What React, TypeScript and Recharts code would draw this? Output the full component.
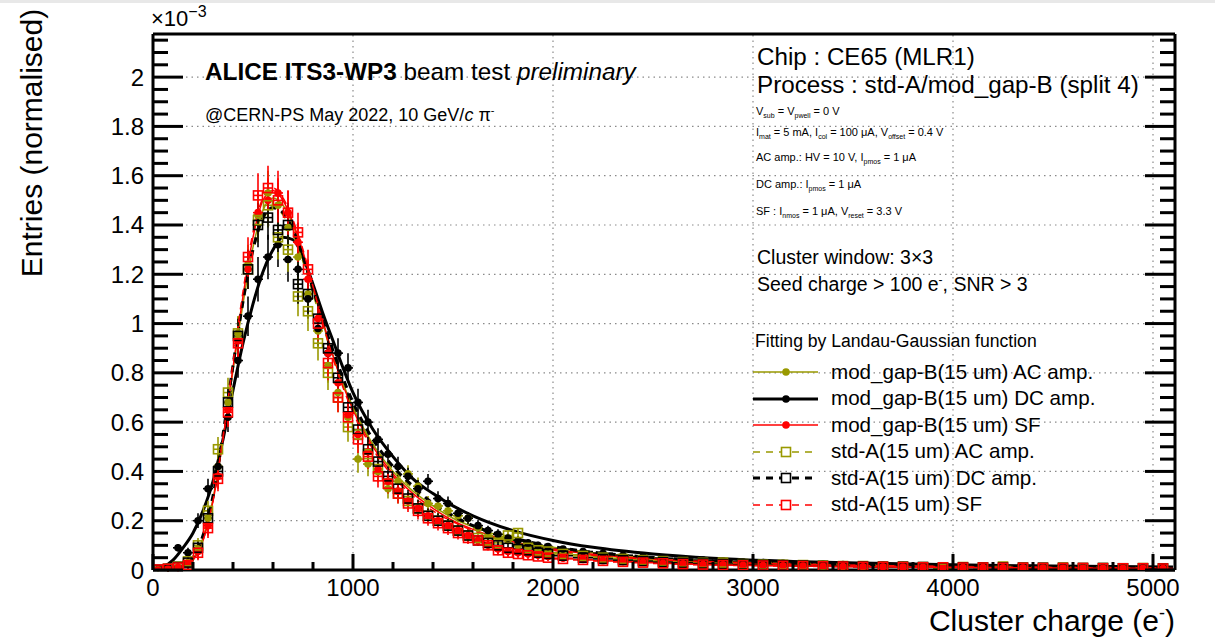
import React from 'react';
import { ComposedChart, Line, Scatter, XAxis, YAxis, ReferenceLine, ErrorBar } from 'recharts';

const FONT = '"Liberation Sans", Arial, Helvetica, sans-serif';
const OLIVE = '#999900';
const RED = '#ff0000';
const BLACK = '#000000';

// bin centres: 50 e wide up to 2000, 100 e wide above
const binX = [
  25, 75, 125, 175, 225, 275, 325, 375, 425, 475, 525, 575, 625, 675, 725, 775, 825, 875, 925, 975,
  1025, 1075, 1125, 1175, 1225, 1275, 1325, 1375, 1425, 1475, 1525, 1575, 1625, 1675, 1725, 1775, 1825, 1875, 1925, 1975,
  2050, 2150, 2250, 2350, 2450, 2550, 2650, 2750, 2850, 2950, 3050, 3150, 3250, 3350, 3450, 3550, 3650, 3750, 3850, 3950,
  4050, 4150, 4250, 4350, 4450, 4550, 4650, 4750, 4850, 4950, 5050,
];

const binErr = [
  0.005, 0.01, 0.015, 0.02, 0.03, 0.04, 0.05, 0.06, 0.07, 0.08, 0.09, 0.09, 0.09, 0.09, 0.08, 0.08, 0.07, 0.07, 0.06, 0.06,
  0.055, 0.05, 0.045, 0.04, 0.04, 0.035, 0.035, 0.03, 0.03, 0.028, 0.026, 0.024, 0.022, 0.02, 0.02, 0.018, 0.017, 0.016, 0.015, 0.015,
  0.012, 0.011, 0.011, 0.01, 0.01, 0.009, 0.009, 0.008, 0.008, 0.008, 0.007, 0.007, 0.007, 0.006, 0.006, 0.006, 0.006, 0.006, 0.005, 0.005,
  0.005, 0.005, 0.005, 0.005, 0.005, 0.005, 0.005, 0.005, 0.005, 0.005, 0.005,
];

// mod_gap-B (filled circles)
const modAc = [
  0.0, 0.004, 0.012, 0.03, 0.085, 0.21, 0.42, 0.68, 0.96, 1.24, 1.44, 1.53, 1.48, 1.39, 1.27, 1.12, 0.97, 0.83, 0.72, 0.62,
  0.45, 0.43, 0.4, 0.33, 0.36, 0.39, 0.34, 0.27, 0.26, 0.24, 0.22, 0.21, 0.17, 0.14, 0.13, 0.12, 0.1, 0.095, 0.085, 0.08,
  0.07, 0.062, 0.055, 0.048, 0.044, 0.04, 0.034, 0.031, 0.029, 0.026, 0.024, 0.022, 0.021, 0.019, 0.018, 0.016, 0.017, 0.015, 0.014, 0.013,
  0.012, 0.013, 0.011, 0.01, 0.011, 0.009, 0.01, 0.008, 0.009, 0.008, 0.007,
];
const modDc = [
  0.002, 0.01, 0.09, 0.07, 0.2, 0.33, 0.42, 0.62, 0.85, 1.03, 1.18, 1.27, 1.32, 1.26, 1.22, 1.1, 0.98, 0.88, 0.88, 0.82,
  0.68, 0.6, 0.53, 0.47, 0.42, 0.38, 0.33, 0.36, 0.29, 0.27, 0.23, 0.21, 0.18, 0.16, 0.145, 0.13, 0.12, 0.11, 0.1, 0.095,
  0.085, 0.075, 0.068, 0.06, 0.054, 0.048, 0.043, 0.04, 0.036, 0.032, 0.03, 0.027, 0.025, 0.023, 0.022, 0.02, 0.019, 0.018, 0.016, 0.015,
  0.014, 0.014, 0.013, 0.012, 0.012, 0.011, 0.01, 0.01, 0.009, 0.009, 0.008,
];
const modSf = [
  0.001, 0.004, 0.01, 0.025, 0.075, 0.18, 0.38, 0.65, 0.93, 1.22, 1.45, 1.5, 1.53, 1.45, 1.33, 1.18, 1.02, 0.88, 0.76, 0.63,
  0.55, 0.48, 0.41, 0.36, 0.32, 0.28, 0.25, 0.22, 0.2, 0.18, 0.16, 0.14, 0.12, 0.1, 0.085, 0.075, 0.07, 0.065, 0.06, 0.055,
  0.048, 0.043, 0.038, 0.034, 0.031, 0.027, 0.025, 0.022, 0.021, 0.019, 0.018, 0.017, 0.016, 0.015, 0.014, 0.013, 0.013, 0.012, 0.011, 0.011,
  0.01, 0.01, 0.009, 0.009, 0.008, 0.008, 0.008, 0.007, 0.007, 0.007, 0.006,
];

// std-A (open squares)
const stdAc = [
  0.0, 0.005, 0.014, 0.035, 0.1, 0.24, 0.49, 0.72, 0.96, 1.22, 1.42, 1.48, 1.35, 1.3, 1.11, 1.05, 0.92, 0.8, 0.7, 0.58,
  0.55, 0.47, 0.41, 0.35, 0.31, 0.28, 0.25, 0.22, 0.2, 0.18, 0.16, 0.14, 0.13, 0.12, 0.11, 0.14, 0.15, 0.09, 0.08, 0.075,
  0.065, 0.057, 0.05, 0.045, 0.04, 0.036, 0.032, 0.029, 0.03, 0.024, 0.022, 0.021, 0.02, 0.018, 0.016, 0.016, 0.014, 0.014, 0.012, 0.006,
  0.012, 0.011, 0.014, 0.01, 0.009, 0.01, 0.008, 0.008, 0.007, 0.008, 0.007,
];
const stdDc = [
  0.001, 0.004, 0.012, 0.03, 0.09, 0.21, 0.4, 0.68, 0.95, 1.22, 1.4, 1.43, 1.38, 1.4, 1.16, 1.12, 1.02, 0.9, 0.78, 0.66,
  0.57, 0.49, 0.44, 0.38, 0.33, 0.29, 0.25, 0.22, 0.2, 0.18, 0.16, 0.14, 0.12, 0.11, 0.1, 0.09, 0.085, 0.08, 0.07, 0.065,
  0.058, 0.05, 0.045, 0.04, 0.036, 0.032, 0.029, 0.026, 0.024, 0.022, 0.02, 0.019, 0.018, 0.016, 0.015, 0.014, 0.013, 0.013, 0.012, 0.011,
  0.011, 0.01, 0.01, 0.009, 0.009, 0.008, 0.008, 0.008, 0.007, 0.007, 0.006,
];
const stdSf = [
  0.002, 0.005, 0.01, 0.02, 0.07, 0.17, 0.37, 0.64, 0.92, 1.27, 1.52, 1.55, 1.5, 1.45, 1.37, 1.22, 1.0, 0.84, 0.7, 0.62,
  0.53, 0.46, 0.38, 0.35, 0.31, 0.27, 0.24, 0.21, 0.19, 0.17, 0.15, 0.13, 0.12, 0.1, 0.08, 0.07, 0.065, 0.06, 0.055, 0.05,
  0.045, 0.041, 0.037, 0.033, 0.03, 0.027, 0.024, 0.022, 0.02, 0.019, 0.018, 0.017, 0.016, 0.015, 0.014, 0.013, 0.013, 0.012, 0.011, 0.011,
  0.01, 0.01, 0.009, 0.009, 0.008, 0.008, 0.008, 0.007, 0.007, 0.007, 0.006,
];

// Landau-Gaussian fits, sampled
const fitX = [
  0, 100, 150, 200, 250, 300, 350, 400, 450, 500, 550, 600, 650, 700, 750, 800, 850, 900, 1000, 1100,
  1200, 1300, 1400, 1500, 1600, 1800, 2000, 2200, 2500, 2800, 3200, 3600, 4000, 4500, 5100,
];
const fitModAc = [
  0, 0.005, 0.015, 0.045, 0.13, 0.29, 0.53, 0.81, 1.08, 1.31, 1.46, 1.51, 1.48, 1.4, 1.28, 1.14, 1.0, 0.87, 0.66, 0.51,
  0.4, 0.32, 0.26, 0.21, 0.175, 0.125, 0.092, 0.07, 0.05, 0.037, 0.027, 0.02, 0.016, 0.012, 0.009,
];
const fitModDc = [
  0, 0.04, 0.09, 0.15, 0.24, 0.36, 0.53, 0.73, 0.92, 1.08, 1.21, 1.3, 1.35, 1.34, 1.27, 1.16, 1.04, 0.93, 0.72, 0.57,
  0.46, 0.37, 0.31, 0.26, 0.22, 0.16, 0.12, 0.092, 0.065, 0.048, 0.035, 0.027, 0.021, 0.016, 0.012,
];
const fitModSf = [
  0, 0.004, 0.012, 0.04, 0.12, 0.28, 0.53, 0.82, 1.11, 1.35, 1.5, 1.54, 1.5, 1.41, 1.29, 1.15, 1.01, 0.87, 0.65, 0.5,
  0.39, 0.31, 0.25, 0.2, 0.165, 0.115, 0.085, 0.064, 0.045, 0.033, 0.024, 0.018, 0.014, 0.011, 0.008,
];
const fitStdAc = [
  0, 0.005, 0.015, 0.05, 0.14, 0.3, 0.55, 0.83, 1.08, 1.29, 1.42, 1.47, 1.44, 1.36, 1.25, 1.12, 0.99, 0.86, 0.66, 0.51,
  0.41, 0.33, 0.27, 0.22, 0.18, 0.13, 0.095, 0.072, 0.051, 0.038, 0.028, 0.021, 0.016, 0.012, 0.009,
];
const fitStdDc = [
  0, 0.005, 0.015, 0.05, 0.14, 0.3, 0.55, 0.83, 1.09, 1.3, 1.43, 1.47, 1.45, 1.38, 1.27, 1.14, 1.01, 0.89, 0.68, 0.53,
  0.42, 0.34, 0.27, 0.22, 0.18, 0.13, 0.095, 0.072, 0.051, 0.038, 0.028, 0.021, 0.016, 0.012, 0.009,
];
const fitStdSf = [
  0, 0.004, 0.012, 0.04, 0.12, 0.28, 0.54, 0.84, 1.13, 1.37, 1.51, 1.55, 1.51, 1.42, 1.3, 1.15, 1.0, 0.86, 0.64, 0.49,
  0.38, 0.3, 0.24, 0.195, 0.16, 0.11, 0.08, 0.06, 0.043, 0.032, 0.023, 0.017, 0.013, 0.01, 0.008,
];

const xMajor = [1000, 2000, 3000, 4000, 5000];
const yMajor = [0.2, 0.4, 0.6, 0.8, 1, 1.2, 1.4, 1.6, 1.8, 2];
const xTicks = Array.from({ length: 26 }, (_, i) => i * 200);
const yTicks = Array.from({ length: 44 }, (_, i) => (i * 5) / 100);
const X_MAX = 5110;
const Y_MAX = 2.175;

type Series = {
  name: string;
  color: string;
  square: boolean;
  dash?: string;
  width: number;
  points: number[];
  fit: number[];
};

const series: Series[] = [
  { name: 'mod_gap-B(15 um) AC amp.', color: OLIVE, square: false, width: 1.5, points: modAc, fit: fitModAc },
  { name: 'mod_gap-B(15 um) DC amp.', color: BLACK, square: false, width: 3, points: modDc, fit: fitModDc },
  { name: 'mod_gap-B(15 um) SF', color: RED, square: false, width: 1.5, points: modSf, fit: fitModSf },
  { name: 'std-A(15 um) AC amp.', color: OLIVE, square: true, dash: '7 6', width: 1.5, points: stdAc, fit: fitStdAc },
  { name: 'std-A(15 um) DC amp.', color: BLACK, square: true, dash: '7 6', width: 3, points: stdDc, fit: fitStdDc },
  { name: 'std-A(15 um) SF', color: RED, square: true, dash: '7 6', width: 1.5, points: stdSf, fit: fitStdSf },
];

const toPoints = (vals: number[]) =>
  vals.map((y, i) => ({ x: binX[i], y, ey: binErr[i], ex: binX[i] < 2000 ? 25 : 50 }));
const toCurve = (vals: number[]) => vals.map((y, i) => ({ x: fitX[i], y }));

const isMajorY = (v: number) => Math.round(v * 20) % 4 === 0;

const BottomTick = (props: any) => {
  const { x, y, payload } = props;
  const major = payload.value % 1000 === 0;
  return (
    <g>
      <line x1={x} x2={x} y1={y} y2={y - (major ? 16 : 8)} stroke="#000" strokeWidth={3} />
      {major && (
        <text x={x} y={y + 26} textAnchor="middle" fontSize={24} fontFamily={FONT} fill="#000">
          {payload.value}
        </text>
      )}
    </g>
  );
};

const TopTick = (props: any) => {
  const { x, y, payload } = props;
  const major = payload.value % 1000 === 0;
  return <line x1={x} x2={x} y1={y} y2={y + (major ? 16 : 8)} stroke="#000" strokeWidth={3} />;
};

const LeftTick = (props: any) => {
  const { x, y, payload } = props;
  const major = isMajorY(payload.value);
  return (
    <g>
      <line x1={x} x2={x + (major ? 30 : 15)} y1={y} y2={y} stroke="#000" strokeWidth={3} />
      {major && (
        <text x={x - 9} y={y + 8.5} textAnchor="end" fontSize={24} fontFamily={FONT} fill="#000">
          {String(Math.round(payload.value * 10) / 10)}
        </text>
      )}
    </g>
  );
};

const RightTick = (props: any) => {
  const { x, y, payload } = props;
  const major = isMajorY(payload.value);
  return <line x1={x} x2={x - (major ? 30 : 15)} y1={y} y2={y} stroke="#000" strokeWidth={3} />;
};

const dotShape = (color: string) => (props: any) =>
  <circle cx={props.cx} cy={props.cy} r={3.8} fill={color} />;
const squareShape = (color: string) => (props: any) =>
  <rect x={props.cx - 4.5} y={props.cy - 4.5} width={9} height={9} fill="none" stroke={color} strokeWidth={1.6} />;

const Sub = ({ children }: { children: React.ReactNode }) => (
  <span style={{ fontSize: 7, position: 'relative', top: 3 }}>{children}</span>
);

const txt = (left: number, top: number, size: number): React.CSSProperties => ({
  position: 'absolute',
  left,
  top,
  fontSize: size,
  lineHeight: 1,
  whiteSpace: 'nowrap',
  color: '#000',
});

export default function App() {
  return (
    <div style={{ position: 'relative', width: 1215, height: 644, background: '#fff', fontFamily: FONT, overflow: 'hidden' }}>
      <style>{'body{margin:0}'}</style>
      <div style={{ position: 'absolute', left: 0, top: 0, width: 1215, height: 3, background: '#e8e8e8' }} />
      <ComposedChart width={1215} height={644} margin={{ top: 0, right: 0, bottom: 0, left: 0 }}>
        <XAxis
          xAxisId="b"
          type="number"
          dataKey="x"
          domain={[0, X_MAX]}
          ticks={xTicks}
          interval={0}
          allowDataOverflow
          height={74}
          axisLine={{ stroke: '#000', strokeWidth: 3 }}
          tickLine={false}
          tickSize={0}
          tickMargin={0}
          tick={BottomTick}
        />
        <XAxis
          xAxisId="t"
          orientation="top"
          type="number"
          domain={[0, X_MAX]}
          ticks={xTicks}
          interval={0}
          allowDataOverflow
          height={34}
          axisLine={{ stroke: '#000', strokeWidth: 3 }}
          tickLine={false}
          tickSize={0}
          tickMargin={0}
          tick={TopTick}
        />
        <YAxis
          yAxisId="l"
          type="number"
          domain={[0, Y_MAX]}
          ticks={yTicks}
          interval={0}
          allowDataOverflow
          width={153}
          axisLine={{ stroke: '#000', strokeWidth: 3 }}
          tickLine={false}
          tickSize={0}
          tickMargin={0}
          tick={LeftTick}
        />
        <YAxis
          yAxisId="r"
          orientation="right"
          type="number"
          domain={[0, Y_MAX]}
          ticks={yTicks}
          interval={0}
          allowDataOverflow
          width={40}
          axisLine={{ stroke: '#000', strokeWidth: 3 }}
          tickLine={false}
          tickSize={0}
          tickMargin={0}
          tick={RightTick}
        />
        {xMajor.map((v) => (
          <ReferenceLine key={'gx' + v} xAxisId="b" yAxisId="l" x={v} stroke="#8a8a8a" strokeWidth={1.2} strokeDasharray="1.5 4" />
        ))}
        {yMajor.map((v) => (
          <ReferenceLine key={'gy' + v} xAxisId="b" yAxisId="l" y={v} stroke="#8a8a8a" strokeWidth={1.2} strokeDasharray="1.5 4" />
        ))}
        {series.flatMap((s, k) => [
          <Scatter
            key={'p' + k}
            xAxisId="b"
            yAxisId="l"
            data={toPoints(s.points)}
            dataKey="y"
            isAnimationActive={false}
            shape={s.square ? squareShape(s.color) : dotShape(s.color)}
          >
            <ErrorBar dataKey="ey" direction="y" width={0} stroke={s.color} strokeWidth={1.6} isAnimationActive={false} />
            <ErrorBar dataKey="ex" direction="x" width={0} stroke={s.color} strokeWidth={1.6} isAnimationActive={false} />
          </Scatter>,
          <Line
            key={'f' + k}
            xAxisId="b"
            yAxisId="l"
            data={toCurve(s.fit)}
            dataKey="y"
            type="monotone"
            stroke={s.color}
            strokeWidth={s.width}
            strokeDasharray={s.dash}
            dot={false}
            activeDot={false}
            isAnimationActive={false}
          />,
        ])}
      </ComposedChart>

      {/* exponent */}
      <div style={txt(151, 8, 22)}>
        ×10<span style={{ fontSize: 16, position: 'relative', top: -9 }}>−3</span>
      </div>

      {/* axis titles */}
      <div style={{ ...txt(32, 143, 30), transform: 'translate(-50%, -50%) rotate(-90deg)' }}>Entries (normalised)</div>
      <div style={{ ...txt(0, 606, 30), left: 'auto', right: 40 }}>
        Cluster charge (e<span style={{ fontSize: 18, position: 'relative', top: -12 }}>-</span>)
      </div>

      {/* left annotations */}
      <div style={txt(205, 60, 24.3)}>
        <b>ALICE ITS3-WP3</b> beam test <i>preliminary</i>
      </div>
      <div style={txt(205, 106, 18)}>
        @CERN-PS May 2022, 10 GeV/<i>c</i> π<span style={{ fontSize: 11, position: 'relative', top: -7 }}>-</span>
      </div>

      {/* right annotations */}
      <div style={txt(757, 45, 24.2)}>Chip : CE65 (MLR1)</div>
      <div style={txt(757, 73, 24.2)}>Process : std-A/mod_gap-B (split 4)</div>
      <div style={txt(756, 106, 11)}>
        V<Sub>sub</Sub> = V<Sub>pwell</Sub> = 0 V
      </div>
      <div style={txt(756, 127, 11)}>
        I<Sub>mat</Sub> = 5 mA, I<Sub>col</Sub> = 100 μA, V<Sub>offset</Sub> = 0.4 V
      </div>
      <div style={txt(756, 152, 11)}>
        AC amp.: HV = 10 V, I<Sub>pmos</Sub> = 1 μA
      </div>
      <div style={txt(756, 179, 11)}>
        DC amp.: I<Sub>pmos</Sub> = 1 μA
      </div>
      <div style={txt(756, 206, 11)}>
        SF : I<Sub>nmos</Sub> = 1 μA, V<Sub>reset</Sub> = 3.3 V
      </div>
      <div style={txt(757, 248, 19.5)}>Cluster window: 3×3</div>
      <div style={txt(757, 275, 19.5)}>
        Seed charge &gt; 100 e<span style={{ fontSize: 12, position: 'relative', top: -7 }}>-</span>, SNR &gt; 3
      </div>

      {/* legend */}
      <div style={txt(755, 333, 17.6)}>Fitting by Landau-Gaussian function</div>
      {series.map((s, i) => {
        const cy = 372 + i * 26.5;
        return (
          <div key={s.name} style={{ position: 'absolute', left: 752, top: cy - 12, height: 24, display: 'flex', alignItems: 'center' }}>
            <svg width={68} height={24}>
              <line x1={1} x2={66} y1={12} y2={12} stroke={s.color} strokeWidth={s.width} strokeDasharray={s.dash} />
              {s.square ? (
                <rect x={29.5} y={7.5} width={9} height={9} fill="#fff" stroke={s.color} strokeWidth={1.6} />
              ) : (
                <circle cx={34} cy={12} r={3.8} fill={s.color} />
              )}
            </svg>
            <span style={{ marginLeft: 11, fontSize: 20.6, lineHeight: 1, whiteSpace: 'nowrap' }}>{s.name}</span>
          </div>
        );
      })}
    </div>
  );
}
